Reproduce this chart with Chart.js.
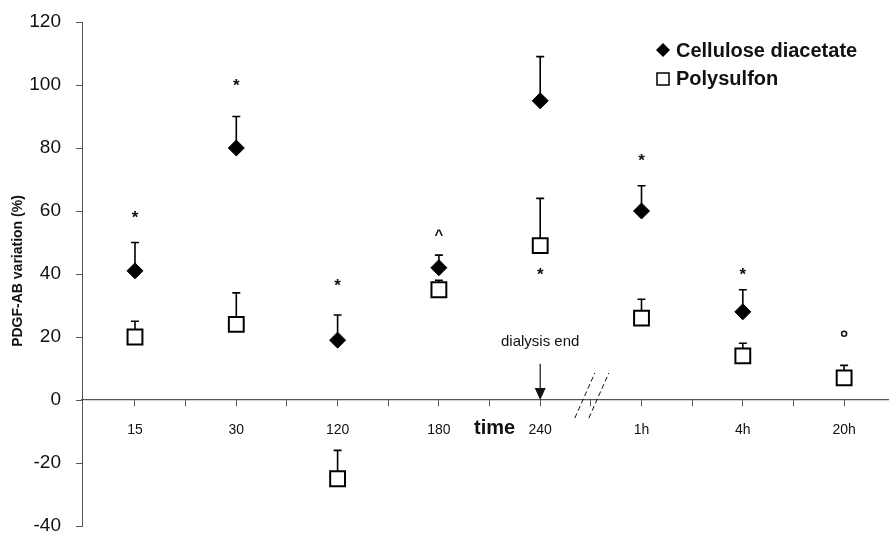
<!DOCTYPE html>
<html>
<head>
<meta charset="utf-8">
<script src="https://cdn.jsdelivr.net/npm/chart.js@4.4.1/dist/chart.umd.min.js"></script>
<style>
  body { margin: 0; background: #fff; }
  canvas { display: block; }
</style>
</head>
<body>
<canvas id="chart" width="889" height="536"></canvas>
<script>
/* Time points on the x axis (equally spaced, break between 240 and 1h) */
var categories = ['15', '30', '120', '180', '240', '1h', '4h', '20h'];

/* PDGF-AB variation (%) per membrane, with upper error value */
var cellulose     = [41, 80, 19, 42, 95, 60, 28, null];
var celluloseErr  = [50, 90, 27, 46, 109, 68, 35, null];
var polysulfon    = [20, 24, -25, 35, 49, 26, 14, 7];
var polysulfonErr = [25, 34, -16, 38, 64, 32, 18, 11];

/* Significance marks and the value they sit at */
var noteText  = ['*', '*', '*', '^', '*', '*', '*', '\u00b0'];
var noteValue = [59, 101, 37.5, 53, 41, 77, 41, 21];

/* Y axis ticks */
var yTicks = [-40, -20, 0, 20, 40, 60, 80, 100, 120];

var FONT = "'Liberation Sans', Arial, sans-serif";

function toPoints(values) {
  var pts = [];
  values.forEach(function(v, i) {
    if (v !== null) pts.push({ x: i, y: v });
  });
  return pts;
}

/* x tick marks at every category and half-way between */
var xTickValues = [];
categories.forEach(function(c, i) {
  xTickValues.push(i);
  if (i < categories.length - 1) xTickValues.push(i + 0.5);
});

function noPadding(scale) {
  scale.paddingLeft = 0;
  scale.paddingRight = 0;
  scale.paddingTop = 0;
  scale.paddingBottom = 0;
}

var errorBars = {
  id: 'errorBars',
  beforeDatasetsDraw: function(chart) {
    var ctx = chart.ctx;
    var xs = chart.scales.x, ys = chart.scales.y;
    var sets = [[cellulose, celluloseErr], [polysulfon, polysulfonErr]];
    ctx.save();
    ctx.strokeStyle = '#000';
    ctx.lineWidth = 1.6;
    sets.forEach(function(s) {
      s[0].forEach(function(v, i) {
        if (v === null || s[1][i] === null) return;
        var x = xs.getPixelForValue(i);
        var y0 = ys.getPixelForValue(v);
        var y1 = ys.getPixelForValue(s[1][i]);
        ctx.beginPath();
        ctx.moveTo(x, y0);
        ctx.lineTo(x, y1);
        ctx.moveTo(x - 4, y1);
        ctx.lineTo(x + 4, y1);
        ctx.stroke();
      });
    });
    ctx.restore();
  }
};

var extras = {
  id: 'extras',
  afterDatasetsDraw: function(chart) {
    var ctx = chart.ctx;
    var xs = chart.scales.x, ys = chart.scales.y;
    ctx.save();
    ctx.fillStyle = '#111';
    ctx.strokeStyle = '#111';

    /* significance marks */
    ctx.textAlign = 'center';
    ctx.textBaseline = 'middle';
    noteText.forEach(function(t, i) {
      var x = xs.getPixelForValue(i);
      var y = ys.getPixelForValue(noteValue[i]);
      if (t === '*') {
        ctx.font = 'bold 17px ' + FONT;
        ctx.fillText(t, x, y + 4);
      } else if (t === '^') {
        ctx.font = 'bold 15px ' + FONT;
        ctx.fillText(t, x, y + 3);
      } else {
        ctx.beginPath();
        ctx.lineWidth = 1.5;
        ctx.arc(x, y, 2.5, 0, Math.PI * 2);
        ctx.stroke();
      }
    });

    /* dialysis end arrow */
    var ax = xs.getPixelForValue(4);
    var aTop = ys.getPixelForValue(11.5);
    var aBot = ys.getPixelForValue(0);
    ctx.lineWidth = 1.2;
    ctx.beginPath();
    ctx.moveTo(ax, aTop);
    ctx.lineTo(ax, aBot - 10);
    ctx.stroke();
    ctx.beginPath();
    ctx.moveTo(ax - 5.5, aBot - 12);
    ctx.lineTo(ax + 5.5, aBot - 12);
    ctx.lineTo(ax, aBot);
    ctx.closePath();
    ctx.fill();
    ctx.font = '15px ' + FONT;
    ctx.fillText('dialysis end', ax, ys.getPixelForValue(18.5));

    /* axis break between 240 and 1h */
    var bx = xs.getPixelForValue(4.5);
    ctx.setLineDash([5, 3]);
    ctx.lineWidth = 1;
    [-16, -2].forEach(function(off) {
      ctx.beginPath();
      ctx.moveTo(bx + off, aBot + 18);
      ctx.lineTo(bx + off + 20, aBot - 27);
      ctx.stroke();
    });
    ctx.setLineDash([]);

    /* x axis title */
    ctx.font = 'bold 20px ' + FONT;
    ctx.fillText('time', xs.getPixelForValue(3.55), aBot + 28);

    /* y axis title */
    ctx.save();
    ctx.translate(18, 271);
    ctx.rotate(-Math.PI / 2);
    ctx.font = 'bold 14px ' + FONT;
    ctx.fillText('PDGF-AB variation (%)', 0, 0);
    ctx.restore();

    /* legend */
    ctx.textAlign = 'left';
    ctx.font = 'bold 20px ' + FONT;
    ctx.fillStyle = '#000';
    ctx.beginPath();
    ctx.moveTo(663, 43);
    ctx.lineTo(670, 50);
    ctx.lineTo(663, 57);
    ctx.lineTo(656, 50);
    ctx.closePath();
    ctx.fill();
    ctx.fillStyle = '#111';
    ctx.fillText('Cellulose diacetate', 676, 51);
    ctx.lineWidth = 1.5;
    ctx.strokeStyle = '#000';
    ctx.strokeRect(657, 73, 12, 12);
    ctx.fillText('Polysulfon', 676, 79);

    ctx.restore();
  }
};

new Chart(document.getElementById('chart').getContext('2d'), {
  type: 'scatter',
  data: {
    datasets: [
      {
        label: 'Polysulfon',
        data: toPoints(polysulfon),
        pointStyle: 'rect',
        pointRadius: 10.5,
        pointHoverRadius: 10.5,
        backgroundColor: '#fff',
        borderColor: '#000',
        borderWidth: 2
      },
      {
        label: 'Cellulose diacetate',
        data: toPoints(cellulose),
        pointStyle: 'rectRot',
        pointRadius: 8,
        pointHoverRadius: 8,
        backgroundColor: '#000',
        borderColor: '#000',
        borderWidth: 1
      }
    ]
  },
  options: {
    responsive: false,
    animation: false,
    layout: { autoPadding: false, padding: { top: 22, bottom: 10, left: 0, right: 0 } },
    plugins: {
      legend: { display: false },
      tooltip: { enabled: false }
    },
    scales: {
      x: {
        type: 'linear',
        position: { y: 0 },
        min: -0.523,
        max: 7.443,
        afterBuildTicks: function(scale) {
          scale.ticks = xTickValues.map(function(v) { return { value: v }; });
        },
        afterFit: noPadding,
        ticks: {
          autoSkip: false,
          maxRotation: 0,
          padding: 16,
          color: '#111',
          font: { family: FONT, size: 14 },
          callback: function(v) {
            return Number.isInteger(v) ? categories[v] : '';
          }
        },
        grid: { drawOnChartArea: false, tickLength: 6, color: '#555' },
        border: { color: '#555', width: 1.2 }
      },
      y: {
        min: -40,
        max: 120,
        afterBuildTicks: function(scale) {
          scale.ticks = yTicks.map(function(v) { return { value: v }; });
        },
        afterFit: function(scale) {
          noPadding(scale);
          scale.width = 82;
        },
        ticks: {
          padding: 15,
          color: '#111',
          font: { family: FONT, size: 19 }
        },
        grid: { drawOnChartArea: false, tickLength: 6, color: '#555' },
        border: { color: '#555', width: 1 }
      }
    }
  },
  plugins: [errorBars, extras]
});
</script>
</body>
</html>
